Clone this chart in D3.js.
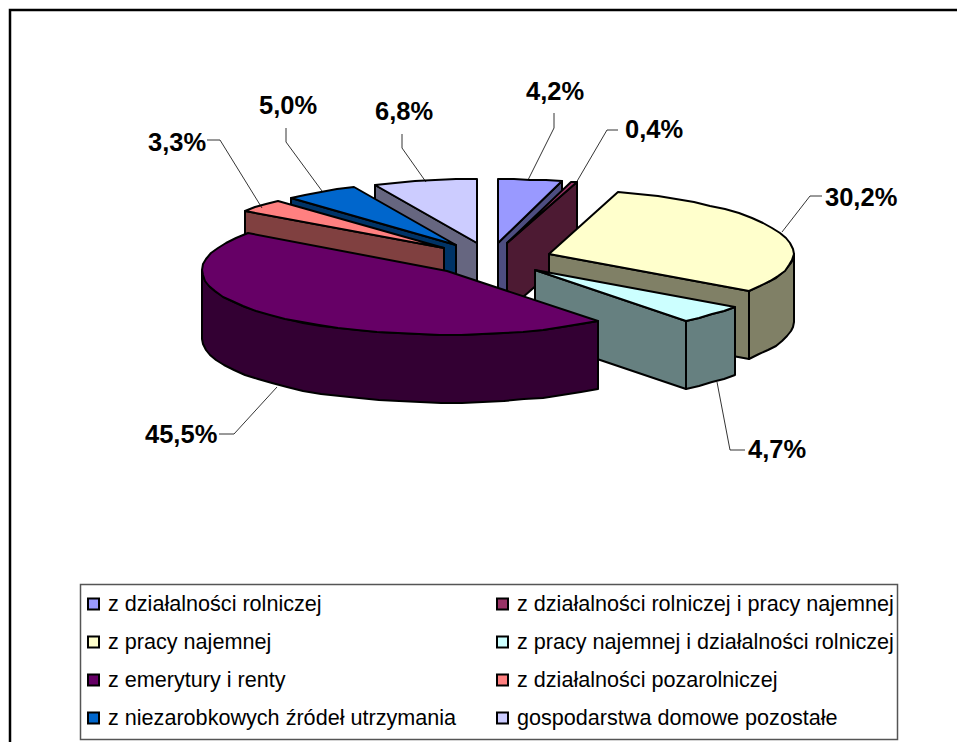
<!DOCTYPE html>
<html>
<head>
<meta charset="utf-8">
<script src="https://cdn.jsdelivr.net/npm/d3@7"></script>
<style>
html, body { margin: 0; padding: 0; background: #fff; overflow: hidden; }
text { font-family: "Liberation Sans", Arial, sans-serif; fill: #000; }
.pct { font-size: 25.5px; font-weight: bold; }
.leg { font-size: 21.6px; }
</style>
</head>
<body>
<div id="chart"></div>
<script>
// values, clockwise from 12 o'clock
var categories = [
  "z działalności rolniczej",
  "z działalności rolniczej i pracy najemnej",
  "z pracy najemnej",
  "z pracy najemnej i działalności rolniczej",
  "z emerytury i renty",
  "z działalności pozarolniczej",
  "z niezarobkowych źródeł utrzymania",
  "gospodarstwa domowe pozostałe"
];
var values = [4.2, 0.4, 30.2, 4.7, 45.5, 3.3, 5.0, 6.8];
var valueLabels = ["4,2%", "0,4%", "30,2%", "4,7%", "45,5%", "3,3%", "5,0%", "6,8%"];
var colors = ["#9999FF", "#993366", "#FFFFCC", "#CCFFFF", "#660066", "#FF8080", "#0066CC", "#CCCCFF"];
var drawOrder = [0, 1, 7, 6, 5, 2, 3, 4];

// label anchors and leader bends, same order as values
var labelPos = [[526, 100], [625, 138], [825, 206], [748, 458], [145, 443], [148, 151], [259, 114], [375, 120]];
var leaders = [
  [[554, 113], [554, 128], [528, 180]],
  [[618, 130], [607, 130], [576, 183]],
  [[822, 196], [810, 196], [782, 232]],
  [[745, 450], [730, 450], [717, 382]],
  [[219, 434], [234, 434], [277, 387]],
  [[207, 140], [220, 140], [262, 208]],
  [[286, 128], [286, 142], [322, 191]],
  [[402, 134], [402, 148], [426, 182]]
];

const width = 957, height = 742;
const cx = 490, cy = 259, radius = 245, flat = 64, depth = 68;
const explode = 0.253;

var svg = d3.select("#chart").append("svg")
  .attr("width", width)
  .attr("height", height)
  .style("display", "block");

// chart frame runs off the right and bottom of the picture
svg.append("path")
  .attr("d", "M10,742V10H957")
  .attr("fill", "none")
  .attr("stroke", "#000")
  .attr("stroke-width", 2.5);

var x = d3.scaleLinear().domain([-1, 1]).range([cx - radius, cx + radius]);
var y = d3.scaleLinear().domain([-1, 1]).range([cy + flat, cy - flat]);

var slices = d3.pie().sort(null).value(function(d) { return d; })(values);
var line = d3.line();

function rimAngles(a0, a1) {
  var n = Math.max(1, Math.ceil((a1 - a0) / (5 * Math.PI / 180)));
  return d3.range(n + 1).map(function(i) { return a0 + (a1 - a0) * i / n; });
}

// x/y point on a slice, pulled out along its middle angle
function pt(s, a, r, drop) {
  var mid = (s.startAngle + s.endAngle) / 2;
  var ux = r * Math.sin(a) + explode * Math.sin(mid);
  var uy = r * Math.cos(a) + explode * Math.cos(mid);
  return [Math.round(x(ux)), Math.round(y(uy)) + (drop || 0)];
}

function shade(c) {
  var r = d3.rgb(c);
  return d3.rgb(r.r / 2, r.g / 2, r.b / 2).formatHex();
}

function drawFace(points, fill) {
  svg.append("path")
    .attr("d", line(points) + "Z")
    .attr("fill", fill)
    .attr("stroke", "#000")
    .attr("stroke-width", 2)
    .attr("stroke-linejoin", "round");
}

drawOrder.forEach(function(i) {
  var s = slices[i], dark = shade(colors[i]);
  var a0 = s.startAngle, a1 = s.endAngle;

  // radial wall that faces the viewer
  if (a1 <= Math.PI) {
    drawFace([pt(s, 0, 0), pt(s, a1, 1), pt(s, a1, 1, depth), pt(s, 0, 0, depth)], dark);
  }
  if (a0 >= Math.PI) {
    drawFace([pt(s, 0, 0), pt(s, a0, 1), pt(s, a0, 1, depth), pt(s, 0, 0, depth)], dark);
  }

  // outer rim wall, front half of the circle only
  var r0 = Math.max(a0, Math.PI / 2), r1 = Math.min(a1, 3 * Math.PI / 2);
  if (r1 > r0) {
    var angles = rimAngles(r0, r1);
    var upper = angles.map(function(a) { return pt(s, a, 1); });
    var lower = angles.slice().reverse().map(function(a) { return pt(s, a, 1, depth); });
    drawFace(upper.concat(lower), dark);
  }

  // top face
  var top = rimAngles(a0, a1).map(function(a) { return pt(s, a, 1); });
  drawFace([pt(s, 0, 0)].concat(top), colors[i]);
});

// leader lines and percent labels
leaders.forEach(function(l) {
  svg.append("path")
    .attr("d", line(l))
    .attr("fill", "none")
    .attr("stroke", "#000")
    .attr("stroke-width", 0.8);
});

svg.selectAll("text.pct")
  .data(valueLabels)
  .enter()
  .append("text")
  .attr("class", "pct")
  .attr("x", function(d, i) { return labelPos[i][0]; })
  .attr("y", function(d, i) { return labelPos[i][1]; })
  .text(function(d) { return d; });

// legend, two columns and four rows
svg.append("rect")
  .attr("x", 80.5).attr("y", 584.5)
  .attr("width", 817).attr("height", 155)
  .attr("fill", "#fff")
  .attr("stroke", "#555")
  .attr("stroke-width", 1.5);

var colX = d3.scaleOrdinal().domain([0, 1]).range([88, 497]);
var rowY = d3.scaleOrdinal().domain([0, 1, 2, 3]).range([604, 642, 680, 718]);

var legend = svg.selectAll("g.legend")
  .data(categories)
  .enter()
  .append("g")
  .attr("class", "legend")
  .attr("transform", function(d, i) {
    return "translate(" + colX(i % 2) + "," + rowY(Math.floor(i / 2)) + ")";
  });

legend.append("rect")
  .attr("x", 0).attr("y", -5.5)
  .attr("width", 11).attr("height", 11)
  .attr("fill", function(d, i) { return colors[i]; })
  .attr("stroke", "#000")
  .attr("stroke-width", 2);

legend.append("text")
  .attr("class", "leg")
  .attr("x", 20)
  .attr("y", 7)
  .text(function(d) { return d; });
</script>
</body>
</html>
